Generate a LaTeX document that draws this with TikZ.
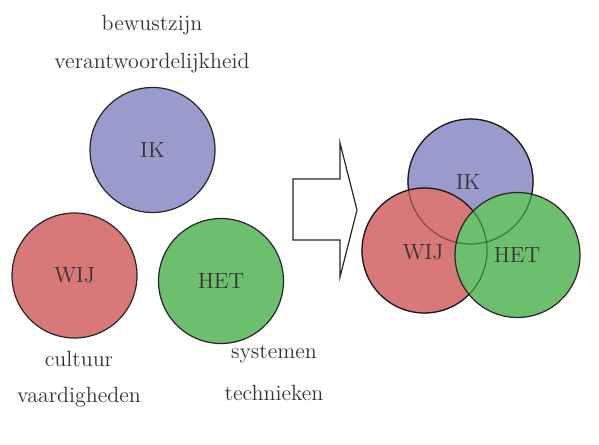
\documentclass[tikz,border=0pt]{standalone}
\usepackage{tikz}

\definecolor{ikblue}{RGB}{154,154,204}
\definecolor{wijred}{RGB}{216,120,120}
\definecolor{hetgreen}{RGB}{108,191,108}

\begin{document}
\begin{tikzpicture}[x=0.5pt, y=-0.5pt,
  font=\fontsize{11pt}{13pt}\selectfont,
  bol/.style={circle, draw=black!85, line width=0.6pt, minimum size=62.5pt,
              inner sep=0pt, text=black!80},
  rand/.style={circle, draw=black, draw opacity=0.4, line width=0.6pt,
              minimum size=62.5pt, inner sep=0pt},
  woord/.style={text=black!80, inner sep=1pt}]
\useasboundingbox (0,0) rectangle (599,444);

% losse cirkels
\node[woord] (bew) at (152,25) {bewustzijn};
\node[woord] (ver) at (152,63) {verantwoordelijkheid};
\node[bol, fill=ikblue] (ik) at (152.5,150) {IK};
\node[bol, fill=wijred] (wij) at (74.5,275.5) {WIJ};
\node[bol, fill=hetgreen] (het) at (221,281) {HET};
\node[woord] (cul) at (79,359) {cultuur};
\node[woord] (vaa) at (79,397) {vaardigheden};
\node[woord] (sys) at (274,354) {systemen};
\node[woord] (tec) at (274,393) {technieken};

% pijl
\draw[line width=0.6pt, draw=black!85] (293,179) -- (340,179) -- (340,143) -- (357,210)
  -- (340,277) -- (340,240) -- (293,240) -- cycle;

% overlappende cirkels
\node[bol, fill=ikblue] (ik2) at (470.5,181.5) {};
\node[bol, fill=wijred] (wij2) at (424.5,250.5) {};
\node[bol, fill=hetgreen] (het2) at (517.5,255) {};
\foreach \c in {ik2,wij2}
  \node[rand] at (\c) {};
\node[woord] (ikt) at (468,182) {IK};
\node[woord] (wijt) at (423,252) {WIJ};
\node[woord] (hett) at (517,255) {HET};

\end{tikzpicture}
\end{document}
